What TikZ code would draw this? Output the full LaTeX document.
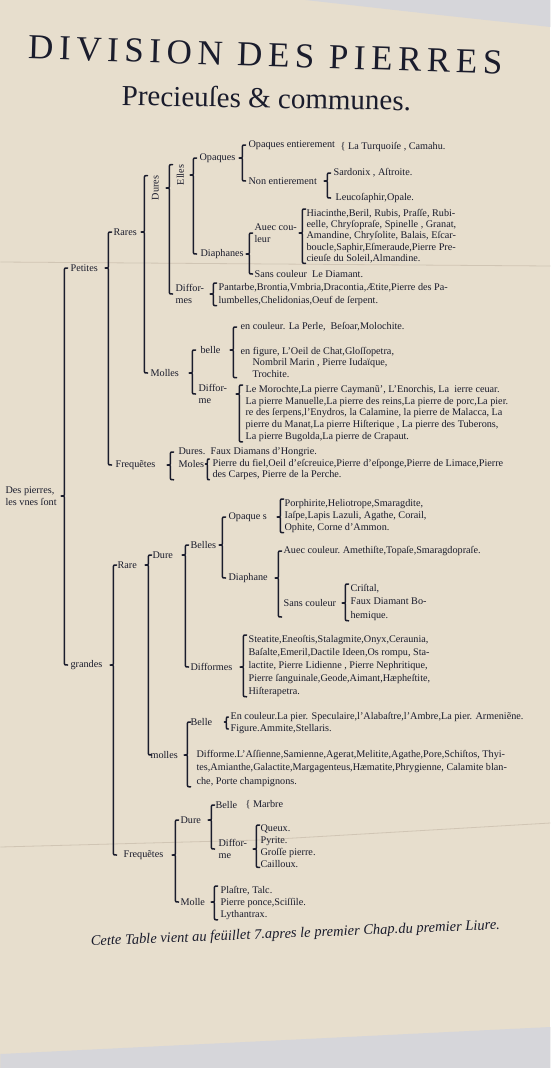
\documentclass[tikz,border=0pt]{standalone}
\usepackage{fontspec}
\setmainfont{Liberation Serif}
\newfontfamily\titlefont[LetterSpace=16]{Liberation Serif}
\usetikzlibrary{calc}
\definecolor{paper}{RGB}{231,222,205}
\definecolor{paperedge}{RGB}{214,214,218}
\definecolor{fold}{RGB}{208,197,180}
\definecolor{ink}{RGB}{26,28,44}

\tikzset{
  lbl/.style={inner sep=0pt,anchor=west,text=ink,font=\fontsize{10.2}{12}\selectfont},
  txtblk/.style={lbl,anchor=north west,align=left},
  vlbl/.style={lbl,anchor=center,rotate=90},
  brc/.style={draw=ink,line width=1.5pt,line cap=round,line join=round}
}
% brace: x, parent, first child, last child, size
\newcommand{\brcgen}[5]{%
  \draw[brc] let \p1=(#2), \p2=(#3), \p3=(#4) in
    (#1+#5,\y2) .. controls (#1,\y2) .. (#1,\y2-#5)
    -- (#1,\y1+#5) .. controls (#1,\y1) .. (#1-#5,\y1)
    .. controls (#1,\y1) .. (#1,\y1-#5)
    -- (#1,\y3+#5) .. controls (#1,\y3) .. (#1+#5,\y3);}
\newcommand{\brc}[4]{\brcgen{#1}{#2}{#3}{#4}{3.2pt}}
\newcommand{\brcs}[4]{\brcgen{#1}{#2}{#3}{#4}{2pt}}

\begin{document}
\begin{tikzpicture}[x=1pt,y=-1pt]
  % paper
  \fill[paper] (0,0) rectangle (550,1068);
  \fill[paperedge] (305,0) -- (550,0) -- (550,27) -- (430,14) -- cycle;
  \fill[paperedge] (0,1054) -- (550,1027) -- (550,1068) -- (0,1068) -- cycle;
  \draw[fold,line width=0.8pt] (0,262) -- (550,266);
  \draw[fold,line width=0.8pt] (0,847) -- (260,840) -- (550,823);
  \useasboundingbox (0,0) rectangle (550,1068);

  % title
  \node[text=ink,font=\titlefont\fontsize{35}{35}\selectfont,rotate=-1.8] (ttl) at (265,55) {DIVISION DES PIERRES};
  \node[text=ink,font=\fontsize{29}{29}\selectfont,rotate=-1] (subttl) at (266,98) {Precieuſes \& communes.};

  % root
  \node[lbl,align=left] (des) at (5,496) {Des pierres,\\les vnes ſont};
  \node[lbl] (petites) at (70,268) {Petites};
  \node[lbl] (grandes) at (70,665) {grandes};
  \brc{64pt}{des.east}{petites.west}{grandes.west}

  % petites
  \node[lbl] (rares) at (113,232) {Rares};
  \node[lbl] (freqa) at (115,465) {Frequẽtes};
  \brc{108pt}{petites.east}{rares.west}{freqa.west}

  \node[vlbl] (dures) at (155,188) {Dures};
  \node[lbl] (molles) at (150,373) {Molles};
  \brc{144pt}{rares.east}{dures.east}{molles.west}

  \node[vlbl] (elles) at (180,175) {Elles};
  \node[lbl,align=left] (diffa) at (175,294) {Diffor-\\mes};
  \brc{169pt}{dures.center}{elles.east}{diffa.west}

  \node[lbl] (opaq) at (199,158) {Opaques};
  \node[lbl] (diapha) at (200,254) {Diaphanes};
  \brc{193pt}{elles.center}{opaq.west}{diapha.west}

  \node[lbl] (opent) at (248,145) {Opaques entierement};
  \node[lbl] (turq) at (340,147) {\{ La Turquoiſe ,\ Camahu.};
  \node[lbl] (nonent) at (248,181) {Non entierement};
  \brc{242pt}{opaq.east}{opent.west}{nonent.west}

  \node[lbl] (sard) at (333,173) {Sardonix ,\ Aſtroite.};
  \node[lbl] (leuco) at (335,198) {Leucoſaphir,Opale.};
  \brc{327pt}{nonent.east}{sard.west}{leuco.west}

  \node[lbl,align=left] (auec) at (254,233) {Auec cou-\\leur};
  \node[lbl] (sansa) at (254,274) {Sans couleur~~Le Diamant.};
  \brc{249pt}{diapha.east}{auec.west}{sansa.west}

  \node[txtblk,font=\fontsize{10.2}{11.3}\selectfont] (hiac) at (306,209) {Hiacinthe,Beril, Rubis, Praſſe, Rubi-\\eelle, Chryſopraſe, Spinelle , Granat,\\Amandine, Chryſolite, Balais, Eſcar-\\boucle,Saphir,Eſmeraude,Pierre Pre-\\cieuſe du Soleil,Almandine.};
  \brc{302pt}{auec.east}{hiac.north west}{hiac.south west}

  \node[txtblk,font=\fontsize{10.2}{13}\selectfont] (pant) at (218,283) {Pantarbe,Brontia,Vmbria,Dracontia,Ætite,Pierre des Pa-\\lumbelles,Chelidonias,Oeuf de ſerpent.};
  \brc{213pt}{diffa.east}{pant.north west}{pant.south west}

  % molles
  \node[lbl] (bellea) at (200,350) {belle};
  \node[lbl,align=left] (diffb) at (198,394) {Diffor-\\me};
  \brc{192pt}{molles.east}{bellea.west}{diffb.west}

  \node[lbl] (encoul) at (240,327) {en couleur. La Perle,\ \ Beſoar,Molochite.};
  \node[txtblk,font=\fontsize{10.2}{11.5}\selectfont] (enfig) at (240,347) {en figure, L'Oeil de Chat,Gloſſopetra,\\\hspace*{12pt}Nombril Marin ,\ Pierre Iudaïque,\\\hspace*{12pt}Trochite.};
  \brc{233pt}{bellea.east}{encoul.west}{enfig.south west}

  \node[txtblk,font=\fontsize{10.2}{11.8}\selectfont] (moro) at (245,385) {Le Morochte,La pierre Caymanũ', L'Enorchis, La \ ierre ceuar.\\La pierre Manuelle,La pierre des reins,La pierre de porc,La pier.\\re des ſerpens,l'Enydros, la Calamine, la pierre de Malacca, La\\pierre du Manat,La pierre Hiſterique , La pierre des Tuberons,\\La pierre Bugolda,La pierre de Crapaut.};
  \brc{239pt}{diffb.east}{moro.north west}{moro.south west}

  % frequetes (petites)
  \node[lbl] (duresb) at (178,452) {Dures.\ \ Faux Diamans d'Hongrie.};
  \node[lbl] (molesb) at (178,464) {Moles};
  \node[txtblk,font=\fontsize{10.2}{11}\selectfont] (fiel) at (212,459) {Pierre du fiel,Oeil d'eſcreuice,Pierre d'eſponge,Pierre de Limace,Pierre\\des Carpes, Pierre de la Perche.};
  \brc{170pt}{freqa.east}{duresb.west}{fiel.south west}
  \brcs{207pt}{molesb.east}{fiel.north west}{fiel.south west}

  % grandes
  \node[lbl] (rareb) at (117,565) {Rare};
  \node[lbl] (freqb) at (123,855) {Frequẽtes};
  \brc{113pt}{grandes.east}{rareb.west}{freqb.west}

  \node[lbl] (dureb) at (152,555) {Dure};
  \node[lbl] (mollesb) at (150,755) {molles};
  \brc{148pt}{rareb.east}{dureb.west}{mollesb.west}

  \node[lbl] (belles) at (190,545) {Belles};
  \node[lbl] (diffc) at (190,667) {Difformes};
  \brc{185pt}{dureb.east}{belles.west}{diffc.west}

  \node[lbl] (opqs) at (228,517) {Opaque s};
  \node[lbl] (diaphb) at (228,578) {Diaphane};
  \brc{222pt}{belles.east}{opqs.west}{diaphb.west}

  \node[txtblk,font=\fontsize{10.2}{12}\selectfont] (porph) at (284,499) {Porphirite,Heliotrope,Smaragdite,\\Iaſpe,Lapis Lazuli, Agathe, Corail,\\Ophite, Corne d'Ammon.};
  \brc{280pt}{opqs.east}{porph.north west}{porph.south west}

  \node[lbl] (auecb) at (283,551) {Auec couleur.\ Amethiſte,Topaſe,Smaragdopraſe.};
  \node[lbl] (sansb) at (283,603) {Sans couleur};
  \brc{278pt}{diaphb.east}{auecb.west}{$(sansb.west)+(0,14)$}

  \node[txtblk,font=\fontsize{10.2}{13.5}\selectfont] (crist) at (350,584) {Criſtal,\\Faux Diamant Bo-\\hemique.};
  \brc{345pt}{sansb.east}{crist.north west}{crist.south west}

  \node[txtblk,font=\fontsize{10.2}{13}\selectfont] (steat) at (248,635) {Steatite,Eneoſtis,Stalagmite,Onyx,Ceraunia,\\Baſalte,Emeril,Dactile Ideen,Os rompu, Sta-\\lactite, Pierre Lidienne ,\ Pierre Nephritique,\\Pierre ſanguinale,Geode,Aimant,Hæpheſtite,\\Hiſterapetra.};
  \brc{243pt}{diffc.east}{steat.north west}{steat.south west}

  \node[lbl] (belleb) at (190,722) {Belle};
  \node[txtblk,font=\fontsize{10.2}{13.5}\selectfont] (assien) at (196,750) {Difforme.L'Aſſienne,Samienne,Agerat,Melitite,Agathe,Pore,Schiſtos, Thyi-\\tes,Amianthe,Galactite,Margagenteus,Hæmatite,Phrygienne, Calamite blan-\\che, Porte champignons.};
  \brc{187pt}{mollesb.east}{belleb.west}{assien.south west}

  \node[lbl] (encoulb) at (230,717) {En couleur.La pier. Speculaire,l'Alabaſtre,l'Ambre,La pier. Armeniẽne.};
  \node[lbl] (figb) at (230,729) {Figure.Ammite,Stellaris.};
  \brcs{226pt}{belleb.east}{encoulb.west}{figb.west}

  % frequetes (grandes)
  \node[lbl] (dure3) at (180,820) {Dure};
  \node[lbl] (molle3) at (180,902) {Molle};
  \brc{175pt}{freqb.east}{dure3.west}{molle3.west}

  \node[lbl] (belle3) at (215,805) {Belle};
  \node[lbl] (marbre) at (245,805) {\{ Marbre};
  \node[lbl,align=left] (diffd) at (218,849) {Diffor-\\me};
  \brc{211pt}{dure3.east}{belle3.west}{diffd.west}

  \node[txtblk,font=\fontsize{10.2}{11.7}\selectfont] (queux) at (260,825) {Queux.\\Pyrite.\\Groſſe pierre.\\Cailloux.};
  \brc{256pt}{diffd.east}{queux.north west}{queux.south west}

  \node[txtblk,font=\fontsize{10.2}{12}\selectfont] (plast) at (220,886) {Plaſtre, Talc.\\Pierre ponce,Sciſſile.\\Lythantrax.};
  \brc{214pt}{molle3.east}{plast.north west}{plast.south west}

  % footer
  \node[text=ink,font=\itshape\fontsize{14.5}{15}\selectfont,rotate=2.3] (foot) at (295,934) {Cette Table vient au feüillet 7.apres le premier Chap.du premier Liure.};
\end{tikzpicture}
\end{document}
